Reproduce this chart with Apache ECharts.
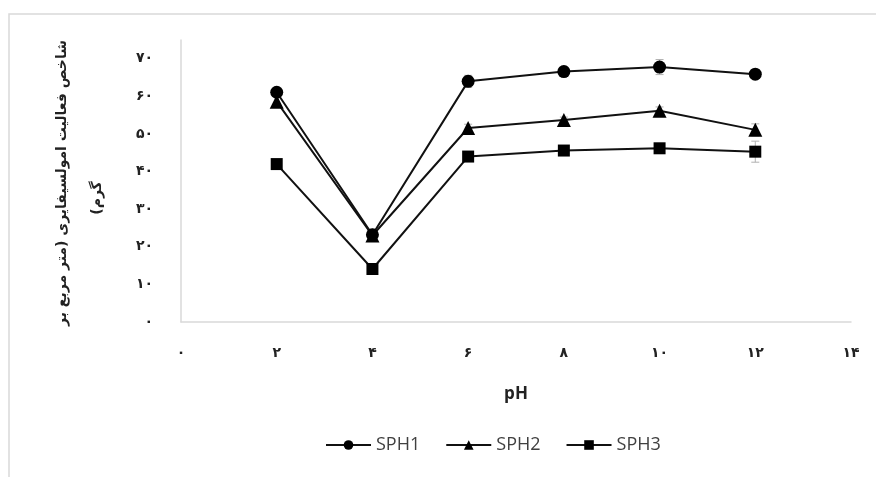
<!DOCTYPE html>
<html><head><meta charset="utf-8">
<script src="https://cdn.jsdelivr.net/npm/echarts@6/dist/echarts.min.js"></script>
<style>html,body{margin:0;padding:0;background:#fff}#c{width:876px;height:477px}</style>
</head><body><div id="c"></div>
<script>
// pH values (x)
const phValues = [2, 4, 6, 8, 10, 12];
// emulsifying activity index (m2/g)
const sph1 = [61.1, 23.2, 64.0, 66.6, 67.8, 65.9];
const sph2 = [58.6, 23.0, 51.6, 53.7, 56.2, 51.1];
const sph3 = [42.0, 14.1, 44.0, 45.6, 46.2, 45.3];
// error bar half-widths
const sph1Err = [1.0, 1.5, 1.6, 1.2, 2.0, 0.8];
const sph2Err = [1.5, 1.5, 1.0, 0.8, 1.0, 1.6];
const sph3Err = [0.8, 0.8, 0.8, 0.8, 0.8, 2.8];
const seriesNames = ['SPH1', 'SPH2', 'SPH3'];
// tick labels (Persian digits)
const xTickLabels = ['۰', '۲', '۴', '۶', '۸', '۱۰', '۱۲', '۱۴'];
const yTickLabels = ['۰', '۱۰', '۲۰', '۳۰', '۴۰', '۵۰', '۶۰', '۷۰'];
const yTitleLine1 = 'شاخص فعالیت امولسیفایری (متر مربع بر';
const yTitleLine2 = 'گرم)\u200F';
const xTitle = 'pH';

const chart = echarts.init(document.getElementById('c'));

function pairs(vals) { return phValues.map((x, i) => [x, vals[i]]); }
function errData(vals, errs) { return phValues.map((x, i) => [x, vals[i], errs[i]]); }

function errRender(params, api) {
  const x = api.value(0), y = api.value(1), e = api.value(2);
  const lo = api.coord([x, y - e]);
  const hi = api.coord([x, y + e]);
  const w = 4;
  const st = { stroke: '#b0b0b0', lineWidth: 1 };
  return { type: 'group', children: [
    { type: 'line', shape: { x1: lo[0], y1: lo[1], x2: hi[0], y2: hi[1] }, style: st },
    { type: 'line', shape: { x1: lo[0] - w, y1: lo[1], x2: lo[0] + w, y2: lo[1] }, style: st },
    { type: 'line', shape: { x1: hi[0] - w, y1: hi[1], x2: hi[0] + w, y2: hi[1] }, style: st }
  ]};
}

const symbols = ['circle', 'triangle', 'rect'];
const sizes = [13, 14, 12];
const vals = [sph1, sph2, sph3];
const errs = [sph1Err, sph2Err, sph3Err];

const series = [];
vals.forEach((v, i) => {
  series.push({
    type: 'custom', silent: true, renderItem: errRender, data: errData(v, errs[i]), z: 1,
    encode: { x: 0, y: [1] }
  });
});
vals.forEach((v, i) => {
  series.push({
    name: seriesNames[i], type: 'line', data: pairs(v), symbol: symbols[i], symbolSize: sizes[i],
    showAllSymbol: true, z: 3,
    itemStyle: { color: '#000' }, lineStyle: { color: '#111', width: 2 }
  });
});

chart.setOption({
  animation: false,
  backgroundColor: '#fff',
  grid: { left: 181, right: 25, top: 40, bottom: 155 },
  xAxis: {
    type: 'value', min: 0, max: 14, interval: 2,
    axisLine: { show: true, lineStyle: { color: '#d9d9d9', width: 1.5 } },
    axisTick: { show: false }, splitLine: { show: false },
    axisLabel: { margin: 24, fontFamily: 'DejaVu Sans', fontWeight: 'bold', fontSize: 14, color: '#222',
      formatter: v => xTickLabels[Math.round(v / 2)] },
    name: xTitle, nameLocation: 'middle', nameGap: 64,
    nameTextStyle: { fontFamily: 'Open Sans', fontWeight: 'bold', fontSize: 17, color: '#222' }
  },
  yAxis: {
    type: 'value', min: 0, max: 75, interval: 10,
    axisLine: { show: true, lineStyle: { color: '#d9d9d9', width: 1.5 } },
    axisTick: { show: false }, splitLine: { show: false },
    axisLabel: { margin: 28, showMaxLabel: false, fontFamily: 'DejaVu Sans', fontWeight: 'bold', fontSize: 14, color: '#222',
      formatter: v => (v % 10 === 0 && v <= 70) ? yTickLabels[v / 10] : '' }
  },
  legend: {
    data: seriesNames, left: 320, top: 431, itemWidth: 45, itemHeight: 12, itemGap: 25,
    textStyle: { fontFamily: 'Open Sans', fontSize: 18, color: '#404040' }
  },
  graphic: [
    { type: 'rect', shape: { x: 9, y: 14, width: 900, height: 500 }, style: { fill: 'none', stroke: '#d9d9d9', lineWidth: 1.5 }, silent: true, z: -1 },
    { type: 'text', x: 62, y: 183, rotation: Math.PI / 2,
      style: { text: yTitleLine1, fontFamily: 'DejaVu Sans', fontWeight: 'bold', fontSize: 14, fill: '#222', align: 'center', verticalAlign: 'middle' } },
    { type: 'text', x: 97, y: 198, rotation: Math.PI / 2,
      style: { text: yTitleLine2, fontFamily: 'DejaVu Sans', fontWeight: 'bold', fontSize: 14, fill: '#222', align: 'center', verticalAlign: 'middle' } }
  ],
  series: series
});
</script></body></html>
